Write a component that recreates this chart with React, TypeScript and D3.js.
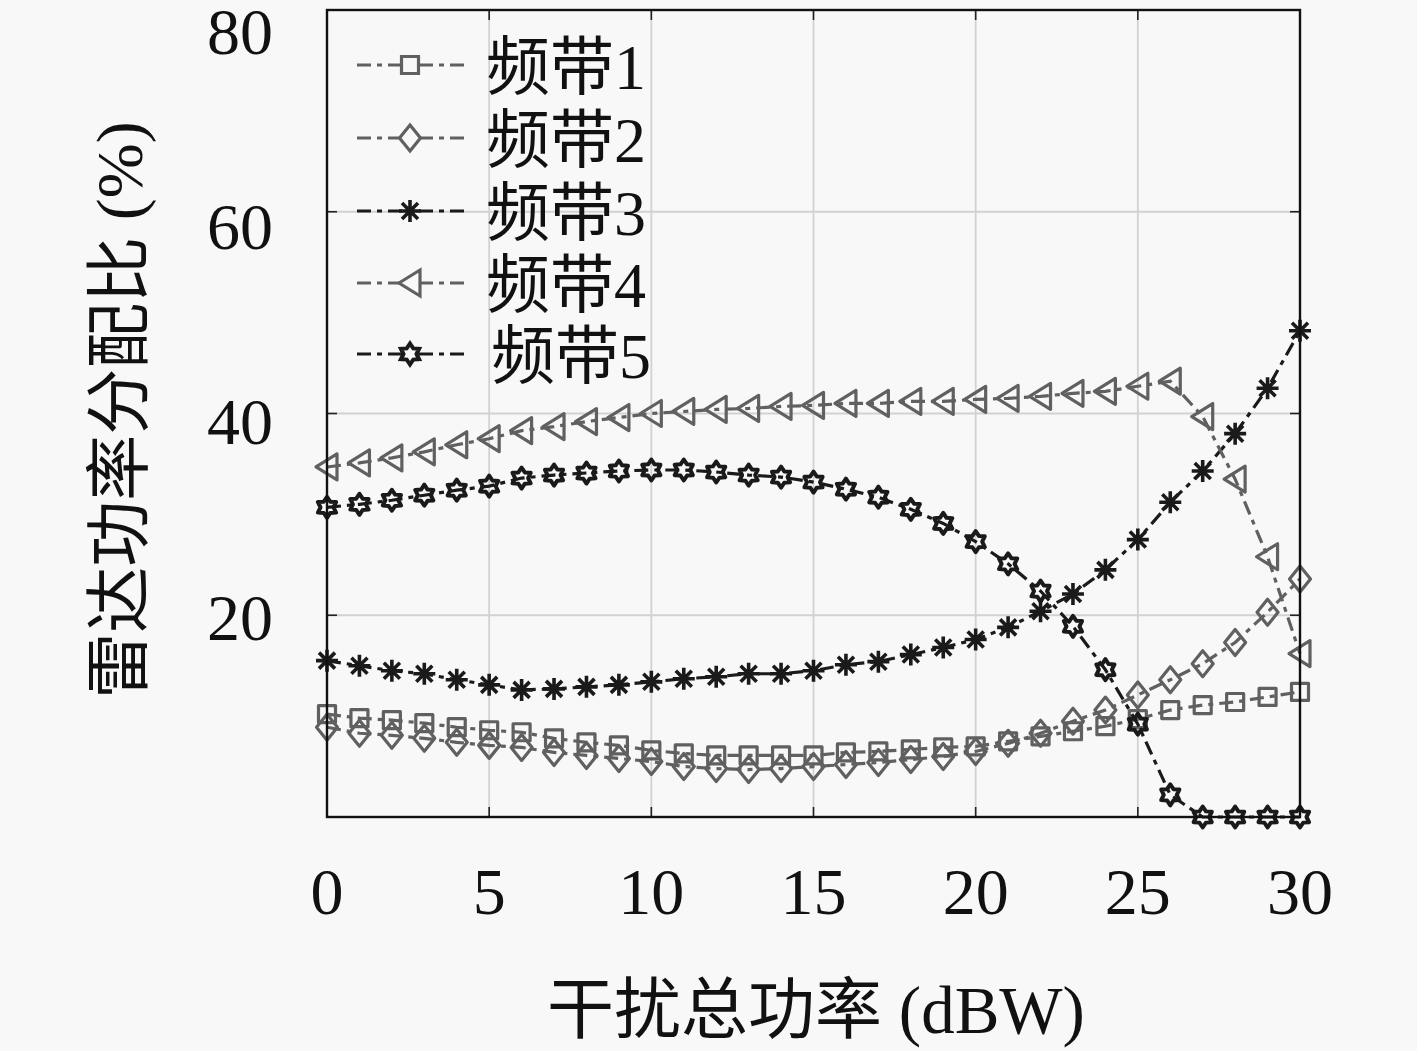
import { line, scaleLinear, path as d3path } from "d3";

const xValues = [0, 1, 2, 3, 4, 5, 6, 7, 8, 9, 10, 11, 12, 13, 14, 15, 16, 17, 18, 19, 20, 21, 22, 23, 24, 25, 26, 27, 28, 29, 30];
const band1 = [10.2, 9.8, 9.6, 9.3, 8.9, 8.6, 8.4, 7.8, 7.4, 7.1, 6.6, 6.3, 6.1, 6.1, 6.1, 6.1, 6.4, 6.5, 6.7, 6.9, 7.0, 7.5, 8.0, 8.5, 9.0, 9.7, 10.6, 11.1, 11.4, 11.9, 12.4];
const band2 = [8.9, 8.3, 8.1, 7.8, 7.4, 7.1, 6.9, 6.4, 6.1, 5.8, 5.5, 5.0, 4.8, 4.7, 4.8, 5.0, 5.2, 5.4, 5.7, 6.0, 6.5, 7.3, 8.3, 9.5, 10.6, 12.1, 13.6, 15.2, 17.3, 20.3, 23.6];
const band3 = [15.5, 15.0, 14.5, 14.2, 13.6, 13.1, 12.6, 12.7, 12.9, 13.1, 13.4, 13.7, 13.9, 14.2, 14.2, 14.5, 15.1, 15.4, 16.1, 16.8, 17.6, 18.8, 20.4, 22.1, 24.5, 27.5, 31.2, 34.3, 38.0, 42.5, 48.2];
const band4 = [34.7, 35.1, 35.6, 36.2, 36.9, 37.5, 38.3, 38.7, 39.2, 39.6, 40.0, 40.2, 40.4, 40.5, 40.7, 40.8, 41.0, 41.0, 41.2, 41.2, 41.4, 41.5, 41.7, 42.0, 42.2, 42.7, 43.2, 39.7, 33.5, 25.8, 16.2];
const band5 = [30.7, 31.0, 31.4, 31.9, 32.4, 32.8, 33.6, 33.9, 34.1, 34.3, 34.4, 34.4, 34.2, 33.9, 33.7, 33.2, 32.5, 31.7, 30.5, 29.1, 27.3, 25.1, 22.4, 18.9, 14.6, 9.2, 2.2, 0, 0, 0, 0];

const seriesNames = ["频带1", "频带2", "频带3", "频带4", "频带5"];
const xTicks = [0, 5, 10, 15, 20, 25, 30];
const yTicks = [20, 40, 60, 80];

const GRAY = "#606060";
const DARK = "#1a1a1a";

const series = [
  { name: seriesNames[0], values: band1, marker: "square", color: GRAY },
  { name: seriesNames[1], values: band2, marker: "diamond", color: GRAY },
  { name: seriesNames[2], values: band3, marker: "asterisk", color: DARK },
  { name: seriesNames[3], values: band4, marker: "triangle", color: GRAY },
  { name: seriesNames[4], values: band5, marker: "hexagram", color: DARK },
];

// marker outlines, centred on 0,0
function markerPath(kind: string) {
  const p = d3path();
  if (kind === "square") {
    p.rect(-8.5, -8.5, 17, 17);
  } else if (kind === "diamond") {
    p.moveTo(0, -13); p.lineTo(10.5, 0); p.lineTo(0, 13); p.lineTo(-10.5, 0); p.closePath();
  } else if (kind === "asterisk") {
    const r = 11, d = 8;
    p.moveTo(-r, 0); p.lineTo(r, 0);
    p.moveTo(0, -r); p.lineTo(0, r);
    p.moveTo(-d, -d); p.lineTo(d, d);
    p.moveTo(-d, d); p.lineTo(d, -d);
  } else if (kind === "triangle") {
    p.moveTo(-11, 0); p.lineTo(10, -13); p.lineTo(10, 13); p.closePath();
  } else {
    const ro = 10.5, ri = 6.5;
    for (let i = 0; i < 12; i++) {
      const a = (Math.PI / 6) * i - Math.PI / 2;
      const r = i % 2 === 0 ? ro : ri;
      if (i === 0) p.moveTo(r * Math.cos(a), r * Math.sin(a));
      else p.lineTo(r * Math.cos(a), r * Math.sin(a));
    }
    p.closePath();
  }
  return p.toString();
}

const markerWidth: Record<string, number> = { square: 3.2, diamond: 3.2, asterisk: 3.6, triangle: 3.2, hexagram: 4 };

export default function App() {
  const width = 1417, height = 1051;
  const left = 327, right = 1300, top = 10, bottom = 817;

  const x = scaleLinear().domain([0, 30]).range([left, right]);
  const y = scaleLinear().domain([0, 80]).range([bottom, top]);
  // tick labels sit a little lower than their ticks in the original
  const yLabel = scaleLinear().domain([20, 80]).range([617, 31]);

  const serif = "'Liberation Serif', 'DejaVu Serif', 'Noto Sans CJK SC', serif";
  const dash = "14,6,5,6";

  return (
    <div style={{ position: "absolute", left: 0, top: 0 }}>
      <svg width={width} height={height} viewBox={`0 0 ${width} ${height}`} style={{ display: "block", background: "#f8f8f8" }}>
        <rect x={0} y={0} width={width} height={height} fill="#f8f8f8" />

        {/* grid */}
        {xTicks.slice(1, -1).map((t) => (
          <line key={"gx" + t} x1={x(t)} x2={x(t)} y1={top} y2={bottom} stroke="#d2d2d2" strokeWidth={1.8} />
        ))}
        {yTicks.slice(0, -1).map((t) => (
          <line key={"gy" + t} x1={left} x2={right} y1={y(t)} y2={y(t)} stroke="#d2d2d2" strokeWidth={1.8} />
        ))}

        {/* ticks pointing inward */}
        {xTicks.map((t) => (
          <g key={"tx" + t} stroke="#222" strokeWidth={1.6}>
            <line x1={x(t)} x2={x(t)} y1={bottom} y2={bottom - 10} />
            <line x1={x(t)} x2={x(t)} y1={top} y2={top + 10} />
          </g>
        ))}
        {yTicks.map((t) => (
          <g key={"ty" + t} stroke="#222" strokeWidth={1.6}>
            <line x1={left} x2={left + 10} y1={y(t)} y2={y(t)} />
            <line x1={right} x2={right - 10} y1={y(t)} y2={y(t)} />
          </g>
        ))}

        {/* series */}
        {series.map((s) => {
          const pts: [number, number][] = s.values.map((v, i) => [x(xValues[i]), y(v)]);
          const d = line()(pts) || "";
          const mp = markerPath(s.marker);
          return (
            <g key={s.name}>
              <path d={d} fill="none" stroke={s.color} strokeWidth={3.2} strokeDasharray={dash} />
              {pts.map((p, i) => (
                <path key={i} d={mp} transform={`translate(${p[0]},${p[1]})`} fill="none"
                  stroke={s.color} strokeWidth={markerWidth[s.marker]} strokeLinejoin="round" />
              ))}
            </g>
          );
        })}

        {/* frame */}
        <rect x={left} y={top} width={right - left} height={bottom - top} fill="none" stroke="#111" strokeWidth={2.4} />

        {/* tick labels */}
        {xTicks.map((t) => (
          <text key={"lx" + t} x={x(t)} y={914} textAnchor="middle" fontFamily={serif} fontSize={66} fill="#111">{t}</text>
        ))}
        {yTicks.map((t) => (
          <text key={"ly" + t} x={273} y={yLabel(t)} textAnchor="end" dominantBaseline="central" fontFamily={serif} fontSize={66} fill="#111">{t}</text>
        ))}

        {/* legend */}
        {series.map((s, i) => {
          const ly = [65, 138, 211, 283, 354][i];
          return (
            <g key={"lg" + s.name}>
              <line x1={357} x2={467} y1={ly} y2={ly} stroke={s.color} strokeWidth={3.2} strokeDasharray={dash} />
              <path d={markerPath(s.marker)} transform={`translate(410,${ly})`} fill="#f8f8f8" stroke={s.color} strokeWidth={markerWidth[s.marker]} />
              <text x={i === 4 ? 491 : 486} y={ly + 2} dominantBaseline="central" fontFamily={serif} fontSize={64} fill="#111">{s.name}</text>
            </g>
          );
        })}

        {/* axis titles */}
        <text x={816} y={1033} textAnchor="middle" fontFamily={serif} fontSize={67} fill="#111">干扰总功率 (dBW)</text>
        <text transform="translate(142,410) rotate(-90)" textAnchor="middle" fontFamily={serif} fontSize={66} fill="#111">雷达功率分配比 (%)</text>
      </svg>
    </div>
  );
}
